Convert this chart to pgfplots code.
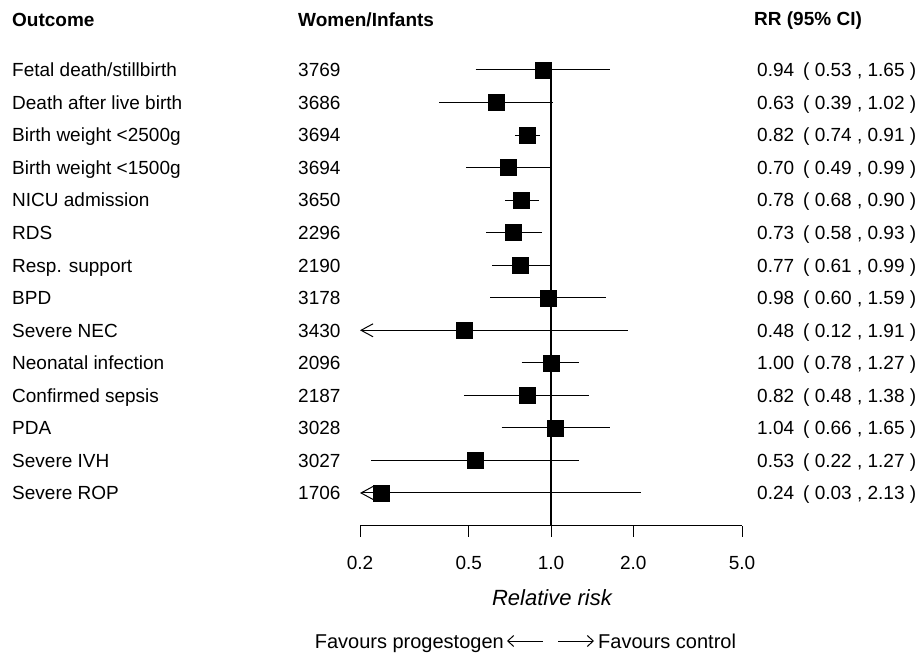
\documentclass[border=0pt]{standalone}
\usepackage{fontspec}
\setmainfont{Liberation Sans}
\usepackage{pgfplots}
\pgfplotsset{compat=1.18}
\usetikzlibrary{arrows.meta}
\begin{document}
\begin{tikzpicture}[every node/.style={font=\fontsize{19}{23}\selectfont, inner sep=0pt}]
\path[use as bounding box] (0pt,0pt) rectangle (919pt,-655pt);
\begin{axis}[
  at={(360pt,-525.5pt)}, anchor=south west,
  scale only axis, width=382pt, height=525.5pt,
  xmode=log, xmin=0.2, xmax=5, ymin=0, ymax=16.151,
  axis x line*=bottom, axis y line=none,
  axis line style={black, line width=1pt},
  xtick={0.2,0.5,1,2,5}, xticklabels={0.2,0.5,1.0,2.0,5.0},
  minor xtick={}, log ticks with fixed point,
  tick align=outside, major tick length=11pt,
  tick style={black, line width=1pt},
  xticklabel style={font=\fontsize{19}{23}\selectfont, anchor=base, yshift=-33pt},
  /pgf/number format/assume math mode=true,
  clip=false,
]
% reference line at RR = 1
\addplot[black, line width=1.3pt] coordinates {(1,0) (1,14)};
% confidence intervals
\addplot[black, line width=1pt] coordinates {(0.53,14) (1.65,14)};
\addplot[black, line width=1pt] coordinates {(0.39,13) (1.02,13)};
\addplot[black, line width=1pt] coordinates {(0.74,12) (0.91,12)};
\addplot[black, line width=1pt] coordinates {(0.49,11) (0.99,11)};
\addplot[black, line width=1pt] coordinates {(0.68,10) (0.90,10)};
\addplot[black, line width=1pt] coordinates {(0.58,9) (0.93,9)};
\addplot[black, line width=1pt] coordinates {(0.61,8) (0.99,8)};
\addplot[black, line width=1pt] coordinates {(0.60,7) (1.59,7)};
\addplot[black, line width=1pt, {Straight Barb[length=12pt,width=13pt,line width=1pt]}-] coordinates {(0.2,6) (1.91,6)};
\addplot[black, line width=1pt] coordinates {(0.78,5) (1.27,5)};
\addplot[black, line width=1pt] coordinates {(0.48,4) (1.38,4)};
\addplot[black, line width=1pt] coordinates {(0.66,3) (1.65,3)};
\addplot[black, line width=1pt] coordinates {(0.22,2) (1.27,2)};
\addplot[black, line width=1pt, {Straight Barb[length=12pt,width=13pt,line width=1pt]}-] coordinates {(0.2,1) (2.13,1)};
% point estimates
\addplot[only marks, mark=square*, mark size=8pt, black] coordinates {
 (0.94,14) (0.63,13) (0.82,12) (0.70,11) (0.78,10) (0.73,9) (0.77,8)
 (0.98,7) (0.48,6) (1.00,5) (0.82,4) (1.04,3) (0.53,2) (0.24,1)};
\end{axis}
% headers
\node[anchor=base west, font=\fontsize{19}{23}\selectfont\bfseries] at (12pt,-27pt) {Outcome};
\node[anchor=base west, font=\fontsize{19}{23}\selectfont\bfseries] at (298pt,-27pt) {Women/Infants};
\node[anchor=base west, font=\fontsize{19}{23}\selectfont\bfseries] at (754pt,-26pt) {RR (95\% CI)};
% rows
\foreach \lab/\n/\rr/\ci [count=\i from 0] in {
 {Fetal death/stillbirth}/3769/0.94/{( 0.53 , 1.65 )},
 {Death after live birth}/3686/0.63/{( 0.39 , 1.02 )},
 {Birth weight <2500g}/3694/0.82/{( 0.74 , 0.91 )},
 {Birth weight <1500g}/3694/0.70/{( 0.49 , 0.99 )},
 {NICU admission}/3650/0.78/{( 0.68 , 0.90 )},
 {RDS}/2296/0.73/{( 0.58 , 0.93 )},
 {Resp. support}/2190/0.77/{( 0.61 , 0.99 )},
 {BPD}/3178/0.98/{( 0.60 , 1.59 )},
 {Severe NEC}/3430/0.48/{( 0.12 , 1.91 )},
 {Neonatal infection}/2096/1.00/{( 0.78 , 1.27 )},
 {Confirmed sepsis}/2187/0.82/{( 0.48 , 1.38 )},
 {PDA}/3028/1.04/{( 0.66 , 1.65 )},
 {Severe IVH}/3027/0.53/{( 0.22 , 1.27 )},
 {Severe ROP}/1706/0.24/{( 0.03 , 2.13 )}} {
  \pgfmathsetmacro{\yy}{-70-32.54*\i-6.8}
  \node[anchor=base west] at (12pt,\yy pt) {\lab};
  \node[anchor=base west] at (298pt,\yy pt) {\n};
  \node[anchor=base west] at (757pt,\yy pt) {\rr};
  \node[anchor=base west] at (803pt,\yy pt) {\ci};
}
% axis title
\node[anchor=base, font=\fontsize{22}{26}\selectfont\itshape] at (552pt,-605pt) {Relative risk};
% favours line
\node[anchor=base east, font=\fontsize{20}{24}\selectfont] at (504pt,-648pt) {Favours progestogen};
\draw[line width=1pt, {Straight Barb[length=6pt,width=11pt,line width=1pt]}-] (507pt,-641pt) -- (543pt,-641pt);
\draw[line width=1pt, -{Straight Barb[length=6pt,width=11pt,line width=1pt]}] (558pt,-641pt) -- (594pt,-641pt);
\node[anchor=base west, font=\fontsize{20}{24}\selectfont] at (598pt,-648pt) {Favours control};
\end{tikzpicture}
\end{document}
